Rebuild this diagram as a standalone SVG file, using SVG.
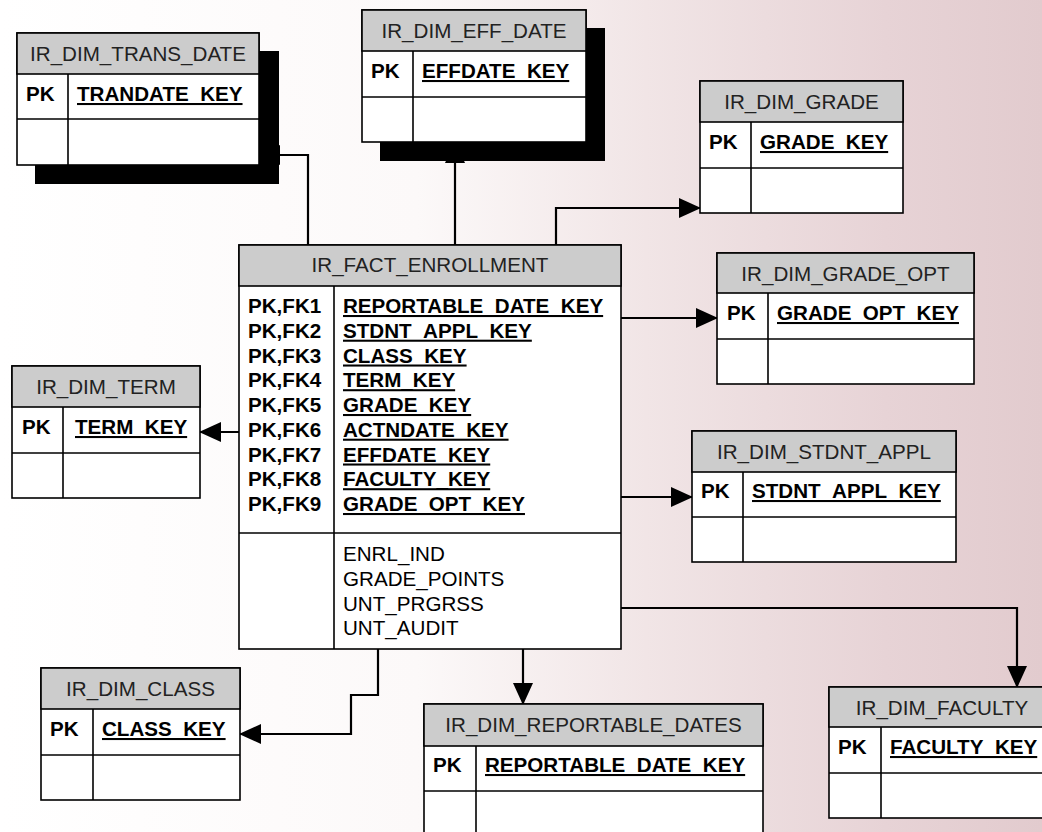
<svg xmlns="http://www.w3.org/2000/svg" width="1042" height="832" viewBox="0 0 1042 832">
<defs>
<linearGradient id="bg" x1="0" y1="0" x2="1" y2="0">
<stop offset="0" stop-color="#ffffff"/>
<stop offset="0.4" stop-color="#fcf9f9"/>
<stop offset="0.62" stop-color="#f1e5e6"/>
<stop offset="0.85" stop-color="#e7d3d6"/>
<stop offset="1" stop-color="#e2cbce"/>
</linearGradient>
<marker id="arr" markerUnits="userSpaceOnUse" markerWidth="22" markerHeight="20" refX="21" refY="10" orient="auto">
<path d="M0,0 L22,10 L0,20 z" fill="#000"/>
</marker>
<style>
.c{fill:none;stroke:#000;stroke-width:2.2;marker-end:url(#arr)}
.bx{fill:#fff;stroke:#000;stroke-width:1.6}
.hd{fill:#cccccc;stroke:#000;stroke-width:1.6}
.ln{stroke:#000;stroke-width:1.6}
.sh{fill:#000}
.t{font-family:"Liberation Sans",Arial,sans-serif;font-size:20.6px;fill:#000}
.ti{text-anchor:middle;fill:#222}
.b{font-weight:bold}
.u{text-decoration:underline}
</style>
</defs>
<rect x="0" y="0" width="1042" height="832" fill="url(#bg)"/>

<g id="connectors">
<path class="c" d="M308,245 V155 H259"/>
<path class="c" d="M455,245 V142"/>
<path class="c" d="M556,245 V208 H700"/>
<path class="c" d="M621,318 H717"/>
<path class="c" d="M621,497 H692"/>
<path class="c" d="M621,608 H1017 V687"/>
<path class="c" d="M239,432 H200"/>
<path class="c" d="M378,649 V695 H351 V734 H240"/>
<path class="c" d="M523,649 V704"/>
</g>

<g id="ir_dim_trans_date">
<rect class="sh" x="35" y="51" width="244" height="133"/>
<rect class="bx" x="17" y="33" width="242" height="132"/>
<rect class="hd" x="17" y="33" width="242" height="41"/>
<line class="ln" x1="17" y1="119" x2="259" y2="119"/>
<line class="ln" x1="68" y1="74" x2="68" y2="165"/>
<text class="t ti" x="138" y="61">IR_DIM_TRANS_DATE</text>
<text class="t b" x="26" y="101">PK</text>
<text class="t b u" x="77" y="101">TRANDATE_KEY</text>
</g>

<g id="ir_dim_eff_date">
<rect class="sh" x="380" y="28" width="225" height="133"/>
<rect class="bx" x="362" y="10" width="224" height="132"/>
<rect class="hd" x="362" y="10" width="224" height="41"/>
<line class="ln" x1="362" y1="97" x2="586" y2="97"/>
<line class="ln" x1="413" y1="51" x2="413" y2="142"/>
<text class="t ti" x="474" y="38">IR_DIM_EFF_DATE</text>
<text class="t b" x="371" y="78">PK</text>
<text class="t b u" x="422" y="78">EFFDATE_KEY</text>
</g>

<g id="ir_dim_grade">
<rect class="bx" x="700" y="81" width="203" height="132"/>
<rect class="hd" x="700" y="81" width="203" height="41"/>
<line class="ln" x1="700" y1="168" x2="903" y2="168"/>
<line class="ln" x1="751" y1="122" x2="751" y2="213"/>
<text class="t ti" x="801.5" y="109">IR_DIM_GRADE</text>
<text class="t b" x="709" y="149">PK</text>
<text class="t b u" x="760" y="149">GRADE_KEY</text>
</g>

<g id="ir_fact_enrollment">
<rect class="bx" x="239" y="245" width="382" height="404"/>
<rect class="hd" x="239" y="245" width="382" height="41"/>
<line class="ln" x1="239" y1="533" x2="621" y2="533"/>
<line class="ln" x1="334" y1="286" x2="334" y2="649"/>
<text class="t ti" x="430" y="272">IR_FACT_ENROLLMENT</text>
<g class="t b">
<text x="248" y="313">PK,FK1</text>
<text x="248" y="337.7">PK,FK2</text>
<text x="248" y="362.5">PK,FK3</text>
<text x="248" y="387.2">PK,FK4</text>
<text x="248" y="412">PK,FK5</text>
<text x="248" y="436.7">PK,FK6</text>
<text x="248" y="461.5">PK,FK7</text>
<text x="248" y="486.2">PK,FK8</text>
<text x="248" y="511">PK,FK9</text>
</g>
<g class="t b u">
<text x="343" y="313">REPORTABLE_DATE_KEY</text>
<text x="343" y="337.7">STDNT_APPL_KEY</text>
<text x="343" y="362.5">CLASS_KEY</text>
<text x="343" y="387.2">TERM_KEY</text>
<text x="343" y="412">GRADE_KEY</text>
<text x="343" y="436.7">ACTNDATE_KEY</text>
<text x="343" y="461.5">EFFDATE_KEY</text>
<text x="343" y="486.2">FACULTY_KEY</text>
<text x="343" y="511">GRADE_OPT_KEY</text>
</g>
<g class="t" fill="#222">
<text x="343" y="561">ENRL_IND</text>
<text x="343" y="585.7">GRADE_POINTS</text>
<text x="343" y="610.5">UNT_PRGRSS</text>
<text x="343" y="635.2">UNT_AUDIT</text>
</g>
</g>

<g id="ir_dim_grade_opt">
<rect class="bx" x="717" y="253" width="257" height="131"/>
<rect class="hd" x="717" y="253" width="257" height="40"/>
<line class="ln" x1="717" y1="339" x2="974" y2="339"/>
<line class="ln" x1="768" y1="293" x2="768" y2="384"/>
<text class="t ti" x="845.5" y="281">IR_DIM_GRADE_OPT</text>
<text class="t b" x="727" y="320">PK</text>
<text class="t b u" x="777" y="320">GRADE_OPT_KEY</text>
</g>

<g id="ir_dim_stdnt_appl">
<rect class="bx" x="692" y="431" width="264" height="131"/>
<rect class="hd" x="692" y="431" width="264" height="41"/>
<line class="ln" x1="692" y1="517" x2="956" y2="517"/>
<line class="ln" x1="743" y1="472" x2="743" y2="562"/>
<text class="t ti" x="824" y="459">IR_DIM_STDNT_APPL</text>
<text class="t b" x="701" y="498">PK</text>
<text class="t b u" x="752" y="498">STDNT_APPL_KEY</text>
</g>

<g id="ir_dim_term">
<rect class="bx" x="12" y="366" width="188" height="132"/>
<rect class="hd" x="12" y="366" width="188" height="41"/>
<line class="ln" x1="12" y1="453" x2="200" y2="453"/>
<line class="ln" x1="63" y1="407" x2="63" y2="498"/>
<text class="t ti" x="106" y="394">IR_DIM_TERM</text>
<text class="t b" x="22" y="434">PK</text>
<text class="t b u" x="75" y="434">TERM_KEY</text>
</g>

<g id="ir_dim_class">
<rect class="bx" x="41" y="668" width="199" height="132"/>
<rect class="hd" x="41" y="668" width="199" height="41"/>
<line class="ln" x1="41" y1="755" x2="240" y2="755"/>
<line class="ln" x1="93" y1="709" x2="93" y2="800"/>
<text class="t ti" x="140.5" y="696">IR_DIM_CLASS</text>
<text class="t b" x="50" y="736">PK</text>
<text class="t b u" x="102" y="736">CLASS_KEY</text>
</g>

<g id="ir_dim_reportable_dates">
<rect class="bx" x="424" y="704" width="339" height="140"/>
<rect class="hd" x="424" y="704" width="339" height="42"/>
<line class="ln" x1="424" y1="791" x2="763" y2="791"/>
<line class="ln" x1="476" y1="746" x2="476" y2="844"/>
<text class="t ti" x="593.5" y="732">IR_DIM_REPORTABLE_DATES</text>
<text class="t b" x="433" y="772">PK</text>
<text class="t b u" x="485" y="772">REPORTABLE_DATE_KEY</text>
</g>

<g id="ir_dim_faculty">
<rect class="bx" x="829" y="687" width="227" height="131"/>
<rect class="hd" x="829" y="687" width="227" height="40"/>
<line class="ln" x1="829" y1="773" x2="1056" y2="773"/>
<line class="ln" x1="881" y1="727" x2="881" y2="818"/>
<text class="t ti" x="942" y="715">IR_DIM_FACULTY</text>
<text class="t b" x="838" y="754">PK</text>
<text class="t b u" x="890" y="754">FACULTY_KEY</text>
</g>
</svg>
